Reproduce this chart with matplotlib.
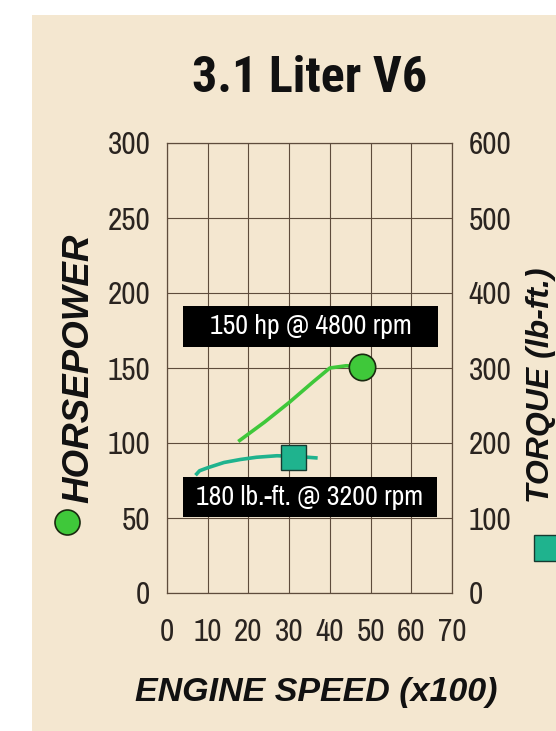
import matplotlib
matplotlib.use("Agg")
import matplotlib.pyplot as plt
from matplotlib.patches import Rectangle
from matplotlib.lines import Line2D

# ---- data ----
hp_rpm = [17.5, 24, 30, 36, 40, 44, 48]
hp_vals = [101, 114, 127, 141, 150, 151.5, 151]
tq_rpm = [7, 8, 10, 14, 18, 22, 27, 32, 37]
tq_vals = [157, 163, 167, 174, 178, 181, 183, 182, 180]
hp_peak = (48, 151)
tq_peak = (31, 182)
x_ticks = [0, 10, 20, 30, 40, 50, 60, 70]
hp_ticks = [0, 50, 100, 150, 200, 250, 300]
tq_ticks = [0, 100, 200, 300, 400, 500, 600]
title = "3.1 Liter V6"
hp_note = "150 hp @ 4800 rpm"
tq_note = "180 lb.-ft. @ 3200 rpm"

narrow = ["Archivo Narrow", "DejaVu Sans"]
cond = ["Roboto Condensed", "DejaVu Sans"]
sans = ["Liberation Sans", "DejaVu Sans"]

BG = "#f4e7d0"
GRID = "#5e4c3c"
HP_C = "#3fc83a"
TQ_C = "#1fb38e"
TXT = "#2a2420"

fig = plt.figure(figsize=(5.56, 7.31), dpi=100, facecolor="white")
fig.patches.append(Rectangle((32/556, 0), 1, 1 - 15/731, transform=fig.transFigure,
                             facecolor=BG, edgecolor="none", zorder=-10))

ax = fig.add_axes([167/556, 1 - 593/731, (452-167)/556, (593-143)/731])
ax.set_facecolor("none")
ax.set_xlim(0, 70)
ax.set_ylim(0, 300)
ax.set_xticks(x_ticks)
ax.set_yticks(hp_ticks)
ax.grid(True, color=GRID, lw=0.8)
for s in ax.spines.values():
    s.set_color(GRID)
    s.set_linewidth(0.9)
ax.tick_params(length=0, colors=TXT)
ax.tick_params(axis="y", pad=12, labelsize=22.5)
ax.tick_params(axis="x", pad=18, labelsize=22.5)
for lb in ax.get_xticklabels() + ax.get_yticklabels():
    lb.set_family(narrow)

ax2 = ax.twinx()
ax2.set_ylim(0, 600)
ax2.set_yticks(tq_ticks)
ax2.tick_params(length=0, colors=TXT, pad=12, labelsize=22.5)
for lb in ax2.get_yticklabels():
    lb.set_family(narrow)
for s in ax2.spines.values():
    s.set_visible(False)

ax.plot(hp_rpm, hp_vals, color=HP_C, lw=2.6, solid_capstyle="butt", zorder=3)
ax.plot([hp_peak[0]], [hp_peak[1]], "o", ms=19, mfc=HP_C, mec="#1a2a10", mew=1.2, zorder=4)
ax2.plot(tq_rpm, tq_vals, color=TQ_C, lw=2.6, solid_capstyle="butt", zorder=3)
ax2.plot([tq_peak[0]], [tq_peak[1]], "s", ms=18, mfc=TQ_C, mec="#163a30", mew=1.0, zorder=4)

# annotation boxes (axes fraction)
for (x0, y0, w, h, s) in [((183-167)/285, (593-347)/450, 255/285, 41/450, hp_note),
                          ((183-167)/285, (593-517)/450, 254/285, 40/450, tq_note)]:
    ax.add_patch(Rectangle((x0, y0), w, h, transform=ax.transAxes, facecolor="black",
                           edgecolor="none", zorder=5))
    ax.text(x0 + w/2, y0 + h/2, s, transform=ax.transAxes, ha="center", va="center",
            color="white", fontsize=20, family=narrow, zorder=6)

fig.text(310/556, 1 - 78/731, title, ha="center", va="center", fontsize=36,
         fontweight="heavy", family=cond, color="#111111")
fig.text(316/556, 1 - 693/731, "ENGINE SPEED (x100)", ha="center", va="center",
         fontsize=24.5, fontweight="bold", style="italic", family=sans, color="#111111")
fig.text(79/556, 1 - 368/731, "HORSEPOWER", ha="center", va="center", rotation=90,
         fontsize=26.5, fontweight="bold", style="italic", family=sans, color="#111111")
fig.text(541/556, 1 - 385/731, "TORQUE (lb-ft.)", ha="center", va="center", rotation=90,
         fontsize=23, fontweight="bold", style="italic", family=sans, color="#111111")
fig.lines.append(Line2D([67/556], [1 - 522/731], transform=fig.transFigure, marker="o",
                        ms=18, mfc=HP_C, mec="#1a2a10", mew=1.2, ls="none"))
fig.lines.append(Line2D([547/556], [1 - 548/731], transform=fig.transFigure, marker="s",
                        ms=19, mfc=TQ_C, mec="#163a30", mew=1.0, ls="none"))

fig.savefig("out.png", dpi=100, facecolor="white")
